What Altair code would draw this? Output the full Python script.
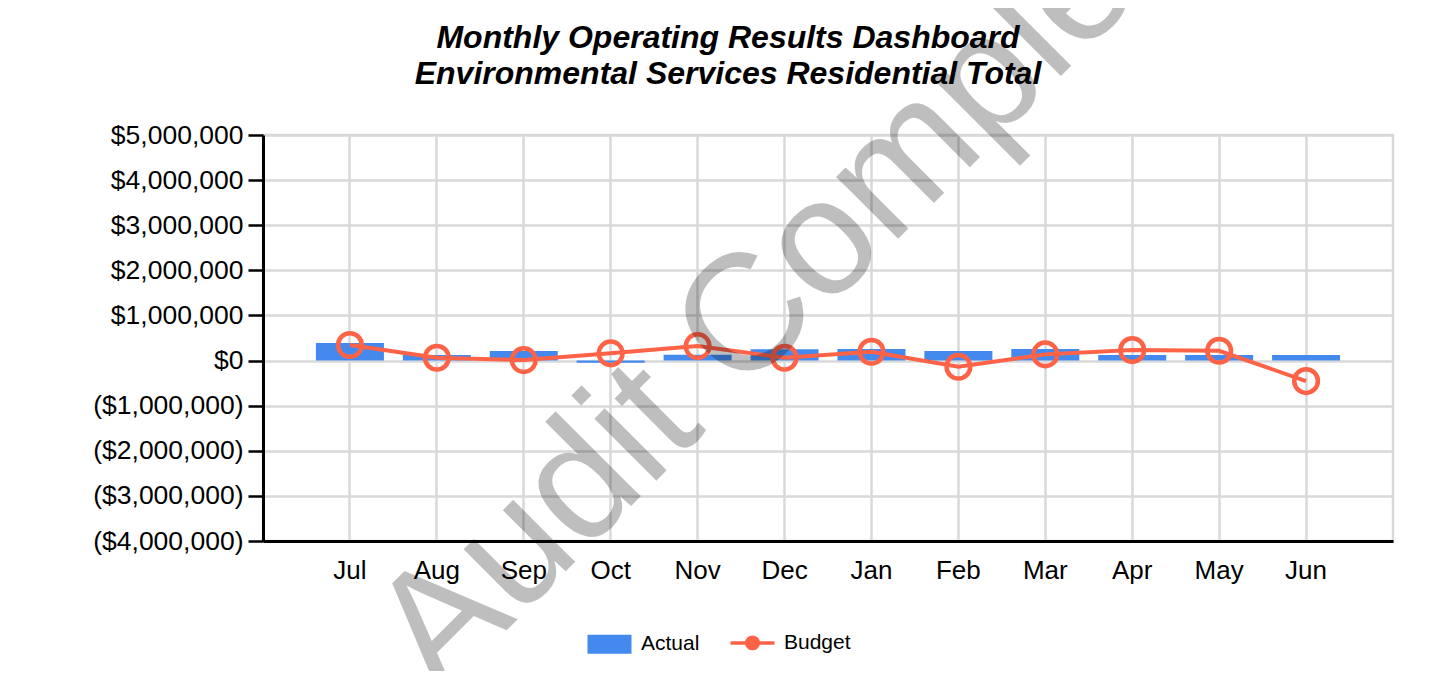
import altair as alt
import pandas as pd

months = ['Jul', 'Aug', 'Sep', 'Oct', 'Nov', 'Dec', 'Jan', 'Feb', 'Mar', 'Apr', 'May', 'Jun']
actual = [390000, 122000, 210000, -50000, 130000, 250000, 255000, 210000, 255000, 122000, 122000, 122000]
budget = [345000, 62000, 10000, 160000, 320000, 62000, 195000, -137000, 137000, 233000, 217000, -455000]
title_lines = ['Monthly Operating Results Dashboard', 'Environmental Services Residential Total']
watermark = ['Audit Complete']

df = pd.DataFrame({'month': months, 'actual': actual, 'budget': budget})
wm = pd.DataFrame({'label': watermark})
tt = pd.DataFrame({'label': ['\n'.join(title_lines)]})

FONT = 'Liberation Sans'
BLUE = '#4489EE'
RED = '#FF6347'

xenc = alt.X('month:N', sort=months, title=None,
             scale=alt.Scale(paddingInner=0, paddingOuter=0.5),
             axis=alt.Axis(labelAngle=0, labelFontSize=26, labelColor='black', labelPadding=16,
                           ticks=False, domainColor='black', domainWidth=3,
                           grid=True, gridColor='#d9d9d9', gridWidth=2.5, bandPosition=0.5))

yenc = alt.Y('actual:Q', title=None,
             scale=alt.Scale(domain=[-4000000, 5000000], nice=False),
             axis=alt.Axis(values=list(range(-4000000, 5000001, 1000000)),
                           labelExpr="datum.value < 0 ? '($' + format(-datum.value, ',') + ')' : '$' + format(datum.value, ',')",
                           labelFontSize=26.5, labelColor='black', labelPadding=5,
                           tickSize=15, tickWidth=2.5, tickColor='black',
                           domainColor='black', domainWidth=3,
                           grid=True, gridColor='#d9d9d9', gridWidth=2.5))

color = alt.Color('series:N',
                  scale=alt.Scale(domain=['Actual', 'Budget'], range=[BLUE, RED]),
                  legend=alt.Legend(
                      title=None, orient='none', legendX=336, legendY=497,
                      direction='horizontal', labelFontSize=21, labelColor='black',
                      labelOffset=21, columnPadding=23, symbolSize=1936,
                      symbolType=alt.ExprRef("datum.value === 'Actual' ? 'M-1,-0.43H1V0.43H-1Z' : 'M-1,0H1M0.26,0A0.26,0.26,0,1,1,-0.26,0A0.26,0.26,0,1,1,0.26,0'"),
                      symbolFillColor=alt.ExprRef("datum.value === 'Actual' ? '#4489EE' : '#FF6347'"),
                      symbolStrokeColor=alt.ExprRef("datum.value === 'Actual' ? '#4489EE' : '#FF6347'"),
                      symbolStrokeWidth=alt.ExprRef("datum.value === 'Actual' ? 0 : 3.5"),
                      symbolOpacity=1))

bars = alt.Chart(df).transform_calculate(series="'Actual'").mark_bar(width=68).encode(
    x=xenc, y=yenc, color=color)

line = alt.Chart(df).transform_calculate(series="'Budget'").mark_line(
    strokeWidth=4,
    point=alt.OverlayMarkDef(filled=False, size=560, strokeWidth=4.5, color=RED)
).encode(x=alt.X('month:N', sort=months), y=alt.Y('budget:Q'), color=color)

title = alt.Chart(tt).mark_text(
    fontSize=32, font=FONT, fontWeight='bold', fontStyle='italic', color='black',
    align='center', baseline='alphabetic', lineBreak='\n', lineHeight=36
).encode(x=alt.value(465), y=alt.value(-87), text='label:N')

mark = alt.Chart(wm).mark_text(
    angle=315, fontSize=166, font=FONT, color='black', opacity=0.25,
    align='center', baseline='alphabetic'
).encode(x=alt.value(578), y=alt.value(161), text='label:N')

chart = alt.layer(bars, line, title, mark).properties(
    width=1130, height=406,
    autosize=alt.AutoSizeParams(type='none'),
    padding={'left': 255, 'top': 127, 'right': 30, 'bottom': 130}
).configure(font=FONT).configure_view(stroke='#d9d9d9', strokeWidth=2.5)

chart.save('out.html', embed_options={'renderer': 'svg', 'actions': False})
